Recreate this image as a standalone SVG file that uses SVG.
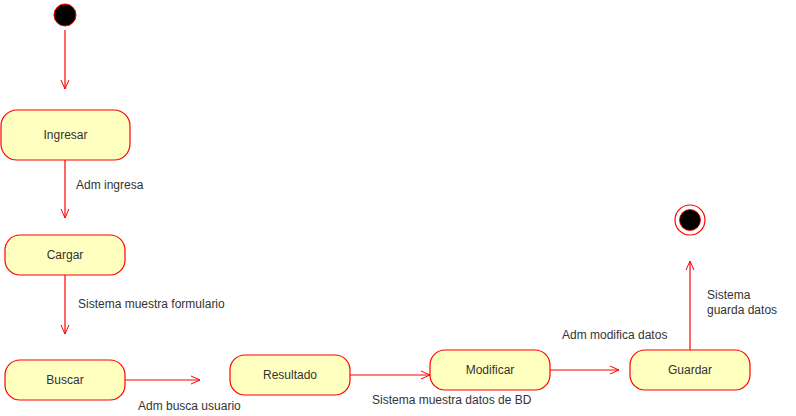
<svg xmlns="http://www.w3.org/2000/svg" width="796" height="416" viewBox="0 0 796 416">
<defs>
<marker id="arr" markerWidth="12" markerHeight="12" refX="10" refY="5" orient="auto" markerUnits="userSpaceOnUse">
<path d="M1,1 L10,5 L1,9" fill="none" stroke="#ff0000" stroke-width="1"/>
</marker>
<style>
.st{fill:#ffffc0;stroke:#ff0000;stroke-width:1.2}
.lbl{font-family:"Liberation Sans",Arial,sans-serif;font-size:12px;fill:#333333}
.nt{font-family:"Liberation Sans",Arial,sans-serif;font-size:12px;fill:#333333;text-anchor:middle}
.cn{fill:none;stroke:#ff0000;stroke-width:1.2}
</style>
</defs>
<rect width="796" height="416" fill="#ffffff"/>
<g id="connectors">
<path class="cn" d="M65,30 L65,89" marker-end="url(#arr)"/>
<path class="cn" d="M65,160 L65,218" marker-end="url(#arr)"/>
<path class="cn" d="M65,275 L65,334" marker-end="url(#arr)"/>
<path class="cn" d="M125,380 L200,380" marker-end="url(#arr)"/>
<path class="cn" d="M350,375 L430,375" marker-end="url(#arr)"/>
<path class="cn" d="M550,370 L619,370" marker-end="url(#arr)"/>
<path class="cn" d="M690,350 L690,261" marker-end="url(#arr)"/>
<text class="lbl" x="76" y="189">Adm ingresa</text>
<text class="lbl" x="78" y="308">Sistema muestra formulario</text>
<text class="lbl" x="138" y="410">Adm busca usuario</text>
<text class="lbl" x="372" y="404">Sistema muestra datos de BD</text>
<text class="lbl" x="562" y="339">Adm modifica datos</text>
<text class="lbl" x="707" y="299">Sistema</text>
<text class="lbl" x="707" y="314">guarda datos</text>
</g>
<g id="start"><circle cx="65" cy="15" r="11" fill="#000000" stroke="#ff0000" stroke-width="1"/></g>
<g id="ingresar"><rect class="st" x="1" y="110" width="129" height="50" rx="16" ry="16"/><text class="nt" x="65.5" y="139">Ingresar</text></g>
<g id="cargar"><rect class="st" x="5" y="235" width="120" height="40" rx="15" ry="15"/><text class="nt" x="65" y="259">Cargar</text></g>
<g id="buscar"><rect class="st" x="5" y="360" width="120" height="40" rx="15" ry="15"/><text class="nt" x="65" y="384">Buscar</text></g>
<g id="resultado"><rect class="st" x="230" y="355" width="120" height="40" rx="15" ry="15"/><text class="nt" x="290" y="379">Resultado</text></g>
<g id="modificar"><rect class="st" x="430" y="350" width="120" height="40" rx="15" ry="15"/><text class="nt" x="490" y="374">Modificar</text></g>
<g id="guardar"><rect class="st" x="630" y="350" width="120" height="40" rx="15" ry="15"/><text class="nt" x="690" y="374">Guardar</text></g>
<g id="end"><circle cx="690" cy="220" r="15" fill="#ffffff" stroke="#ff0000" stroke-width="1.2"/><circle cx="690" cy="220" r="10.5" fill="#000000" stroke="#ff0000" stroke-width="0.8"/></g>
</svg>
